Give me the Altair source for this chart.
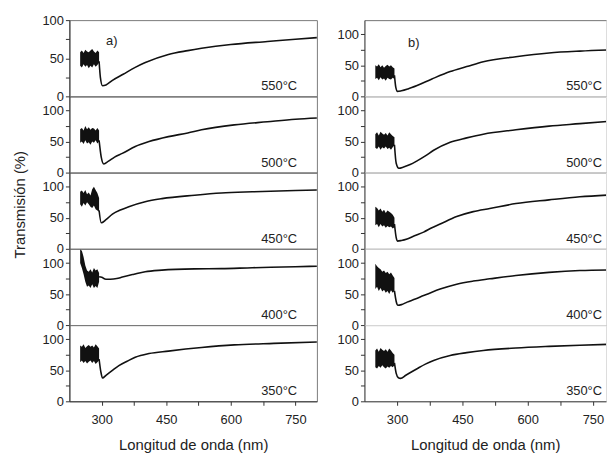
import altair as alt
import pandas as pd

FONT = "Liberation Sans"

# wavelengths (nm) sampled across the noisy low-wavelength region
NOISE_NM = [250, 254, 258, 262, 266, 270, 274, 278, 282, 286, 290, 294]

TEMPS = ["550°C", "500°C", "450°C", "400°C", "350°C"]

# ---- column a) ----
A550_HI = [58, 60, 57, 61, 59, 58, 60, 62, 59, 57, 60, 58]
A550_LO = [40, 38, 42, 39, 41, 37, 40, 38, 42, 39, 41, 44]
A550_NM = [294, 297, 302, 310, 325, 350, 378, 400, 455, 500, 532, 600, 685, 750, 800]
A550_T = [46, 25, 14, 15, 21, 29, 38, 44, 55, 60, 63, 68, 72, 75, 77]

A500_HI = [70, 72, 68, 75, 70, 73, 69, 72, 71, 68, 72, 68]
A500_LO = [48, 50, 46, 52, 47, 49, 45, 50, 48, 52, 47, 50]
A500_NM = [294, 299, 305, 315, 330, 348, 378, 410, 455, 500, 532, 608, 685, 750, 800]
A500_T = [52, 25, 14, 18, 25, 31, 42, 50, 58, 64, 69, 77, 82, 86, 88]

A450_HI = [92, 94, 90, 95, 88, 91, 86, 96, 100, 95, 90, 82]
A450_LO = [72, 68, 74, 70, 75, 72, 68, 66, 70, 64, 62, 60]
A450_NM = [294, 299, 310, 325, 345, 363, 401, 440, 516, 578, 650, 750, 800]
A450_T = [62, 42, 47, 56, 63, 68, 76, 81, 86.5, 90, 92, 94, 95]

A400_HI = [122, 120, 110, 96, 88, 86, 90, 85, 92, 88, 90, 84]
A400_LO = [100, 92, 82, 70, 62, 64, 60, 66, 60, 63, 60, 70]
A400_NM = [294, 300, 310, 320, 335, 348, 375, 401, 440, 516, 578, 650, 750, 800]
A400_T = [78, 77, 74, 74, 75, 77.5, 82, 86, 88.6, 90.6, 91, 92.5, 94, 95]

A350_HI = [90, 88, 92, 86, 89, 91, 88, 90, 87, 92, 89, 85]
A350_LO = [63, 66, 62, 65, 61, 64, 66, 62, 65, 60, 63, 66]
A350_NM = [294, 298, 302, 310, 325, 340, 360, 378, 410, 455, 532, 608, 700, 800]
A350_T = [68, 48, 37.6, 42, 50, 57.6, 65, 71, 77, 81, 86.8, 91, 93.5, 95.7]

# ---- column b) ----
B550_HI = [50, 48, 52, 47, 50, 46, 49, 51, 48, 50, 47, 45]
B550_LO = [28, 30, 26, 31, 27, 29, 25, 30, 28, 27, 30, 28]
B550_NM = [294, 297, 301, 310, 325, 346, 380, 422, 460, 498, 573, 649, 720, 790]
B550_T = [34, 15, 8, 9, 12, 17.5, 28, 40, 48, 56, 64, 70, 73, 75]

B500_HI = [62, 65, 60, 66, 63, 61, 64, 60, 65, 62, 59, 57]
B500_LO = [40, 38, 42, 37, 41, 39, 42, 38, 40, 37, 41, 44]
B500_NM = [294, 298, 304, 315, 330, 346, 365, 384, 422, 460, 498, 573, 649, 720, 790]
B500_T = [45, 15, 7, 9, 13, 19, 27, 36, 49, 56, 62, 69, 75, 79, 83]

B450_HI = [68, 66, 62, 65, 60, 63, 58, 62, 60, 58, 55, 50]
B450_LO = [38, 40, 35, 40, 36, 38, 34, 37, 35, 36, 33, 35]
B450_NM = [294, 298, 301, 310, 323, 340, 361, 380, 399, 437, 475, 513, 573, 649, 720, 790]
B450_T = [40, 18, 12.5, 13.5, 16, 21, 27, 34, 40, 52, 60, 65, 73, 79, 84, 87]

B400_HI = [99, 95, 92, 90, 86, 88, 84, 86, 82, 85, 80, 76]
B400_LO = [58, 62, 55, 60, 54, 57, 52, 55, 50, 56, 52, 55]
B400_NM = [294, 298, 302, 310, 323, 342, 361, 380, 399, 437, 475, 513, 573, 649, 720, 790]
B400_T = [55, 38, 32, 33, 37, 42, 47.6, 53, 58, 66, 71, 74.6, 80, 85, 88, 89]

B350_HI = [82, 85, 80, 86, 83, 81, 84, 80, 85, 82, 78, 75]
B350_LO = [55, 53, 57, 54, 58, 55, 53, 56, 54, 57, 55, 58]
B350_NM = [294, 298, 303, 308, 320, 346, 365, 384, 422, 460, 498, 573, 649, 720, 790]
B350_T = [62, 45, 38, 37, 42, 52.6, 60, 66, 74, 78.5, 82, 86, 88.6, 90.5, 92]

X_TICKS = [300, 375, 450, 525, 600, 675, 750]
Y_TICKS = [0, 25, 50, 75, 100]

H = 77
W_A, W_B = 250, 244
XDOM_A = [225, 800]
XDOM_B = [225, 780]
LINE_COL = "#111111"
SEP_COL = "#7a7a7a"
AXIS_COL = "#333333"


def x_axis(bottom, orient="bottom"):
    if bottom:
        return alt.Axis(values=X_TICKS,
                        labelExpr="datum.value % 150 == 0 ? datum.label : ''",
                        tickSize=4, tickColor=AXIS_COL, domainColor=AXIS_COL,
                        labelFont=FONT, labelFontSize=13, labelColor="#222",
                        labelPadding=8, grid=False,
                        titleFont=FONT, titleFontSize=15, titleFontWeight="normal",
                        titleColor="#222", titlePadding=12)
    return alt.Axis(orient=orient, labels=False, ticks=False, grid=False,
                    domain=True, domainColor=SEP_COL)


def y_axis(mid):
    kw = dict(values=Y_TICKS,
              labelExpr="datum.value % 50 == 0 ? datum.label : ''",
              tickSize=4, tickColor=AXIS_COL, domainColor=AXIS_COL,
              labelFont=FONT, labelFontSize=13, labelColor="#222",
              labelPadding=2, labelOverlap=False, labelFlush=False, grid=False)
    if mid:
        kw.update(titleFont=FONT, titleFontSize=15, titleFontWeight="normal",
                  titleColor="#222", titlePadding=15, titleY=32)
    return alt.Axis(**kw)


def panel(col, idx, hi, lo, nm, t):
    top, bottom, mid = idx == 0, idx == 4, (idx == 2 and col == "a")
    ymax = 100 if (col == "a" and top) else 123
    width = W_A if col == "a" else W_B
    xdom = XDOM_A if col == "a" else XDOM_B
    xs = alt.Scale(domain=xdom, nice=False, zero=False)
    ys = alt.Scale(domain=[0, ymax], nice=False)
    xtitle = "Longitud de onda (nm)" if bottom else None
    ytitle = "Transmisión (%)" if mid else None

    noise = pd.DataFrame({"nm": NOISE_NM, "hi": hi, "lo": lo})
    curve = pd.DataFrame({"nm": nm, "t": t})

    ax = x_axis(bottom)
    area = alt.Chart(noise).mark_area(color=LINE_COL, clip=True).encode(
        x=alt.X("nm:Q", scale=xs, axis=ax, title=xtitle),
        y=alt.Y("hi:Q", scale=ys, axis=y_axis(mid), title=ytitle),
        y2="lo:Q",
    )
    line_ax = ax
    special = (col == "b" and top)
    if special:
        line_ax = x_axis(False, orient="top")
    line = alt.Chart(curve).mark_line(color=LINE_COL, strokeWidth=1.6,
                                      interpolate="monotone", clip=True).encode(
        x=alt.X("nm:Q", scale=xs, axis=line_ax, title=xtitle),
        y=alt.Y("t:Q", scale=ys, axis=y_axis(mid), title=ytitle),
    )
    lab_x = 230 if col == "a" else 240
    lab = alt.Chart(pd.DataFrame({"label": [TEMPS[idx]]})).mark_text(
        align="right", baseline="middle", font=FONT, fontSize=13, color="#222"
    ).encode(text="label:N", x=alt.value(lab_x), y=alt.value(67))
    layers = [area, line, lab]
    if top:
        letter = "a)" if col == "a" else "b)"
        lx, ly = (37, 21) if col == "a" else (44, 23)
        layers.append(alt.Chart(pd.DataFrame({"label": [letter]})).mark_text(
            align="left", baseline="middle", font=FONT, fontSize=13, color="#222"
        ).encode(text="label:N", x=alt.value(lx), y=alt.value(ly)))
    ch = alt.layer(*layers)
    if col == "a":
        ch = ch.properties(width=width, height=H,
                           view=alt.ViewBackground(stroke=SEP_COL, strokeWidth=1))
    else:
        ch = ch.properties(width=width, height=H)
    if special:
        ch = ch.resolve_axis(x="independent")
    return ch


col_a = alt.vconcat(
    panel("a", 0, A550_HI, A550_LO, A550_NM, A550_T),
    panel("a", 1, A500_HI, A500_LO, A500_NM, A500_T),
    panel("a", 2, A450_HI, A450_LO, A450_NM, A450_T),
    panel("a", 3, A400_HI, A400_LO, A400_NM, A400_T),
    panel("a", 4, A350_HI, A350_LO, A350_NM, A350_T),
    spacing=0, bounds="flush",
)
col_b = alt.vconcat(
    panel("b", 0, B550_HI, B550_LO, B550_NM, B550_T),
    panel("b", 1, B500_HI, B500_LO, B500_NM, B500_T),
    panel("b", 2, B450_HI, B450_LO, B450_NM, B450_T),
    panel("b", 3, B400_HI, B400_LO, B400_NM, B400_T),
    panel("b", 4, B350_HI, B350_LO, B350_NM, B350_T),
    spacing=0, bounds="flush",
)

chart = alt.hconcat(col_a, col_b, spacing=18).properties(
    padding={"left": 3, "top": 3, "right": 0, "bottom": 0}
).configure_view(stroke=None).configure(background="white")

chart.save("out.html", embed_options={"renderer": "svg", "actions": False})
